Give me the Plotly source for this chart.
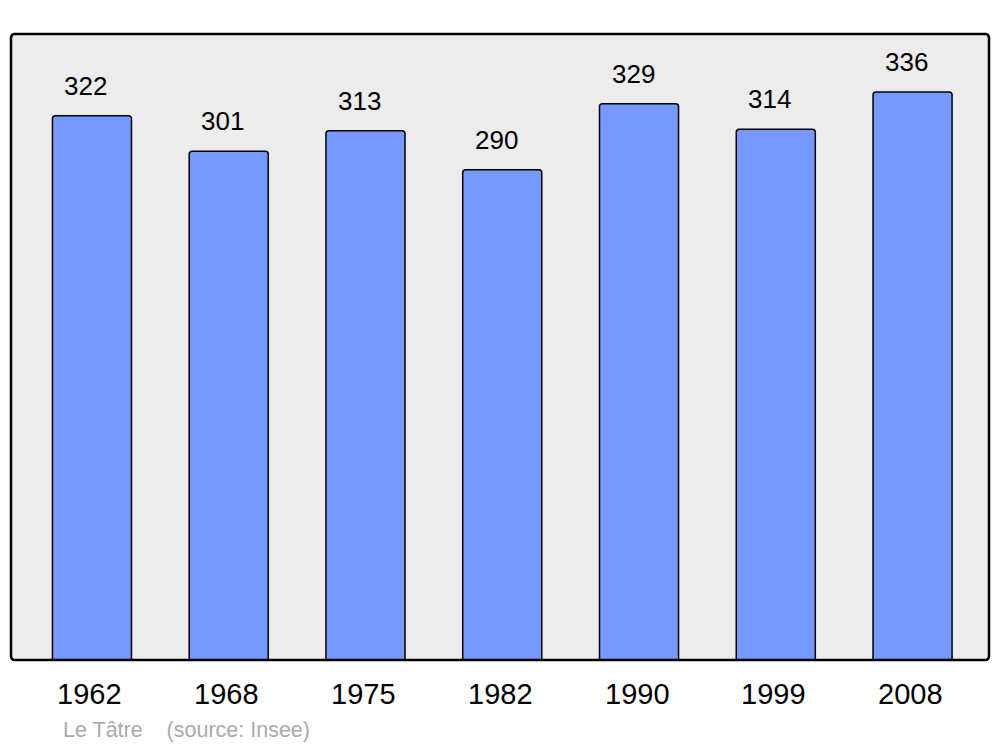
import plotly.graph_objects as go

years = ["1962", "1968", "1975", "1982", "1990", "1999", "2008"]
population = [322, 301, 313, 290, 329, 314, 336]
caption = "Le Tâtre    (source: Insee)"

W, H = 1000, 747
L, R, T, B = 11, 11, 34, 87
pw, ph = W - L - R, H - T - B

xpos = list(range(len(years)))

fig = go.Figure()
fig.add_trace(go.Bar(
    x=xpos, y=population, width=0.578,
    marker=dict(color="#7799ff", line=dict(color="#000000", width=1.5)),
    hoverinfo="skip",
))

font = "Liberation Sans, Arial"
annotations = []
for xi, v in zip(xpos, population):
    annotations.append(dict(x=xi, y=v, xref="x", yref="y", text=str(v), showarrow=False,
                            xanchor="center", yanchor="bottom", xshift=-6, yshift=13,
                            font=dict(family=font, size=26, color="#000")))
    annotations.append(dict(x=xi, y=0, xref="x", yref="paper", text=years[xi], showarrow=False,
                            xanchor="center", yanchor="top", xshift=-2, yshift=-16,
                            font=dict(family=font, size=29, color="#000")))
annotations.append(dict(x=(61 - L) / pw, y=(H - B - 730) / ph,
                        xref="paper", yref="paper", text=caption, showarrow=False,
                        xanchor="left", yanchor="middle",
                        font=dict(family=font, size=21.5, color="#aaaaaa")))

r = 4
rx, ry = r / pw, r / ph
path = (f"M {rx},0 L {1-rx},0 Q 1,0 1,{ry} L 1,{1-ry} Q 1,1 {1-rx},1 "
        f"L {rx},1 Q 0,1 0,{1-ry} L 0,{ry} Q 0,0 {rx},0 Z")

fig.update_layout(
    width=W, height=H,
    margin=dict(l=L, r=R, t=T, b=B, pad=0),
    paper_bgcolor="#ffffff", plot_bgcolor="#ececec",
    barcornerradius=3,
    showlegend=False,
    xaxis=dict(range=[-0.592, 6.559], showticklabels=False, showgrid=False, zeroline=False, ticks=""),
    yaxis=dict(range=[0, 370.3], showticklabels=False, showgrid=False, zeroline=False, ticks=""),
    annotations=annotations,
    shapes=[dict(type="path", xref="paper", yref="paper", path=path,
                 line=dict(color="#000000", width=2.5), layer="above")],
)

fig.write_html("out.html", config={"displayModeBar": False},
               post_script="document.body.style.margin='0';document.body.style.overflow='hidden';")
